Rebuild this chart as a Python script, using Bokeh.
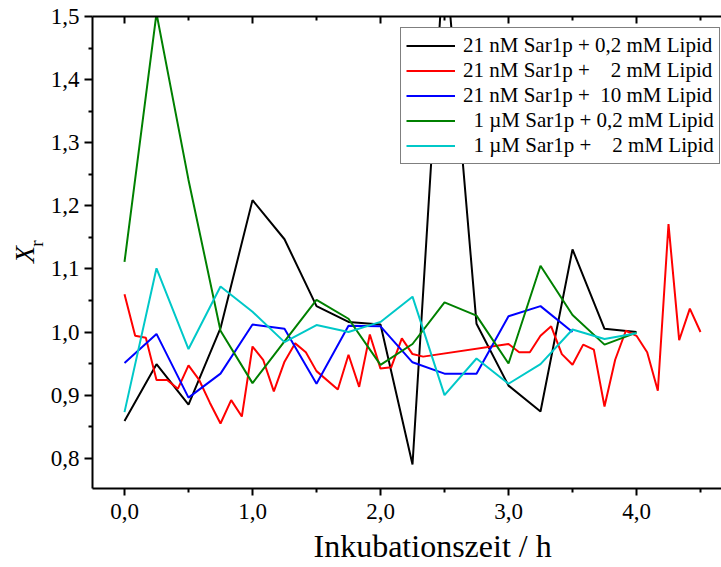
from bokeh.plotting import figure
from bokeh.layouts import row
from bokeh.models import (Range1d, LinearAxis, FixedTicker, CustomJSTickFormatter,
                          Legend, LegendItem, Label, Title)
from bokeh.embed import file_html
from bokeh.resources import INLINE

# ---------------- data ----------------
NB = "\u00a0"
series_labels = [
    "21 nM Sar1p + 0,2 mM Lipid",
    "21 nM Sar1p +" + NB * 4 + "2 mM Lipid",
    "21 nM Sar1p +" + NB * 2 + "10 mM Lipid",
    NB * 2 + "1 \u00b5M Sar1p + 0,2 mM Lipid",
    NB * 2 + "1 \u00b5M Sar1p +" + NB * 4 + "2 mM Lipid",
]
series_colors = ["#000000", "#ff0000", "#0000ff", "#008000", "#00c8c8"]

t_quarter_4 = [0, 0.25, 0.5, 0.75, 1.0, 1.25, 1.5, 1.75, 2.0, 2.25, 2.5, 2.75,
               3.0, 3.25, 3.5, 3.75, 4.0]
t_quarter_35 = t_quarter_4[:15]

black_t = t_quarter_4
black_y = [0.859, 0.949, 0.885, 1.006, 1.209, 1.147, 1.041, 1.016, 1.012, 0.790,
           1.610, 1.013, 0.915, 0.874, 1.131, 1.005, 1.000]

red_steps = list(range(0, 19)) + list(range(20, 29)) + list(range(36, 55))
red_t = [s / 12 for s in red_steps]
red_y = [1.060, 0.994, 0.991, 0.924, 0.924, 0.910, 0.947, 0.924, 0.888, 0.855,
         0.892, 0.866, 0.977, 0.956, 0.906, 0.953, 0.982, 0.968, 0.938,
         0.909, 0.964, 0.913, 0.996, 0.942, 0.944, 0.990, 0.965, 0.961,
         0.981, 0.968, 0.968, 0.994, 1.009, 0.965, 0.948, 0.980, 0.972, 0.882,
         0.956, 1.002, 0.994, 0.968, 0.907, 1.171, 0.987, 1.037, 1.000]

blue_t = t_quarter_35
blue_y = [0.951, 0.997, 0.896, 0.934, 1.012, 1.005, 0.918, 1.010, 1.009, 0.952,
          0.934, 0.934, 1.025, 1.041, 1.000]

green_t = t_quarter_4
green_y = [1.111, 1.505, 1.241, 1.002, 0.919, 0.985, 1.051, 1.021, 0.948, 0.981,
           1.047, 1.026, 0.950, 1.105, 1.027, 0.980, 0.999]

cyan_t = t_quarter_4
cyan_y = [0.873, 1.101, 0.973, 1.072, 1.032, 0.984, 1.011, 1.000, 1.016, 1.056,
          0.900, 0.958, 0.918, 0.949, 1.004, 0.989, 0.998]

x_major = [0, 1, 2, 3, 4]
x_minor = [0.5, 1.5, 2.5, 3.5, 4.5]
y_major = [0.8, 0.9, 1.0, 1.1, 1.2, 1.3, 1.4, 1.5]
y_minor = [0.85, 0.95, 1.05, 1.15, 1.25, 1.35, 1.45]

x_title = "Inkubationszeit / h"

FONT = "Liberation Serif"
LW = 46           # width of the strip holding the y title
FRAME_LEFT = 92   # canvas x of the plot frame's left edge
FRAME_BOTTOM = 488

p = figure(width=721 - LW, height=567, output_backend="svg", toolbar_location=None,
           x_range=Range1d(-0.25, 4.664), y_range=Range1d(0.752, 1.5),
           x_axis_location=None, y_axis_location=None,
           min_border_left=FRAME_LEFT - LW, min_border_right=0, min_border_top=16,
           min_border_bottom=567 - FRAME_BOTTOM)
p.outline_line_color = None
p.xgrid.visible = False
p.ygrid.visible = False
p.background_fill_color = "white"
p.border_fill_color = "white"

fmt = CustomJSTickFormatter(code="return tick.toFixed(1).replace('.', ',');")
blank = CustomJSTickFormatter(code="return '';")

def style(ax):
    ax.axis_line_width = 2
    ax.axis_line_color = "black"
    ax.major_tick_line_width = 2
    ax.minor_tick_line_width = 2
    ax.major_tick_line_color = "black"
    ax.minor_tick_line_color = "black"
    ax.major_label_text_font = FONT
    ax.major_label_text_font_size = "23px"
    ax.major_label_text_color = "black"

bottom = LinearAxis(ticker=FixedTicker(ticks=x_major, minor_ticks=x_minor),
                    formatter=fmt)
style(bottom)
bottom.major_tick_out = 7
bottom.major_tick_in = 0
bottom.minor_tick_out = 4
bottom.minor_tick_in = 0
bottom.major_label_standoff = 8
p.add_layout(bottom, "below")

xt = Title(text=x_title, align="left", offset=313 - FRAME_LEFT,
           text_font=FONT, text_font_size="32px", text_font_style="normal",
           text_color="black", standoff=8)
p.add_layout(xt, "below")

top = LinearAxis(ticker=FixedTicker(ticks=x_major, minor_ticks=x_minor),
                 formatter=blank)
style(top)
top.major_tick_out = 0
top.major_tick_in = 7
top.minor_tick_out = 0
top.minor_tick_in = 4
top.major_label_standoff = 0
top.major_label_text_font_size = "0px"
p.add_layout(top, "above")

left = LinearAxis(ticker=FixedTicker(ticks=y_major, minor_ticks=y_minor),
                  formatter=fmt)
style(left)
left.major_tick_out = 8
left.major_tick_in = 0
left.minor_tick_out = 4
left.minor_tick_in = 0
left.major_label_standoff = 5
p.add_layout(left, "left")

renderers = []
for tt, yy, c in [(black_t, black_y, series_colors[0]),
                  (red_t, red_y, series_colors[1]),
                  (blue_t, blue_y, series_colors[2]),
                  (green_t, green_y, series_colors[3]),
                  (cyan_t, cyan_y, series_colors[4])]:
    r = p.line(tt, yy, line_color=c, line_width=2)
    renderers.append(r)

legend = Legend(items=[LegendItem(label=lab, renderers=[r])
                       for lab, r in zip(series_labels, renderers)],
                location=(308, 324))
legend.label_text_font = FONT
legend.label_text_font_size = "21px"
legend.label_text_color = "black"
legend.border_line_color = "black"
legend.border_line_width = 1
legend.background_fill_color = "white"
legend.background_fill_alpha = 1
legend.padding = 5
legend.spacing = 0
legend.margin = 0
legend.glyph_width = 49
legend.glyph_height = 25
legend.label_height = 25
legend.label_standoff = 8
p.add_layout(legend, "center")

# strip on the left for the y title: italic X with subscript r
# (its frame is aligned with the main frame, so y is measured from FRAME_BOTTOM)
q = figure(width=LW, height=567, output_backend="svg", toolbar_location=None,
           x_range=Range1d(0, LW), y_range=Range1d(0, 567),
           x_axis_location=None, y_axis_location=None,
           min_border=0)
q.outline_line_color = None
q.xgrid.visible = False
q.ygrid.visible = False
q.background_fill_color = "white"
q.border_fill_color = "white"
q.add_layout(Label(x=24, y=FRAME_BOTTOM - 254, x_units="screen", y_units="screen",
                   text="X", angle=90, angle_units="deg", text_font=FONT,
                   text_font_style="italic", text_font_size="28px",
                   text_align="center", text_baseline="middle", text_color="black"))
q.add_layout(Label(x=36, y=FRAME_BOTTOM - 243, x_units="screen", y_units="screen",
                   text="r", angle=90, angle_units="deg", text_font=FONT,
                   text_font_size="19px",
                   text_align="center", text_baseline="middle", text_color="black"))

layout = row(q, p, spacing=0)
open("out.html", "w").write(file_html(layout, INLINE))
